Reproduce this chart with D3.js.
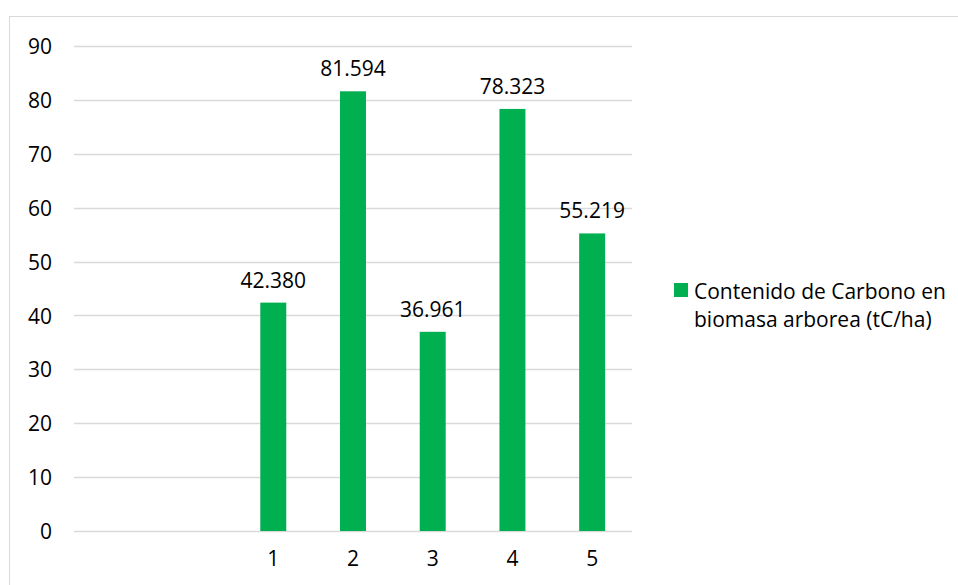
<!DOCTYPE html>
<html>
<head>
<meta charset="utf-8">
<script src="https://cdn.jsdelivr.net/npm/d3@7"></script>
<style>
  html, body { margin: 0; padding: 0; background: #fff; }
  svg { display: block; font-family: "Open Sans", sans-serif; }
  .axis path, .axis line { stroke: none; }
  .axis text { fill: #000; font-size: 21px; font-family: "Open Sans", sans-serif; }
</style>
</head>
<body>
<div id="chart"></div>
<script>
// chart data
var categories = ["", " ", "1", "2", "3", "4", "5"];
var carbono = [null, null, 42.380, 81.594, 36.961, 78.323, 55.219];
var yTicks = [0, 10, 20, 30, 40, 50, 60, 70, 80, 90];
var seriesName = ["Contenido de Carbono en", "biomasa arborea (tC/ha)"];

var width = 958, height = 585;
var margin = {top: 46, left: 74, right: 326, bottom: 54};
var plotW = width - margin.left - margin.right,
    plotH = height - margin.top - margin.bottom;

var svg = d3.select("#chart").append("svg")
    .attr("width", width)
    .attr("height", height);

// chart area frame
svg.append("rect")
    .attr("x", 9.5).attr("y", 16.5)
    .attr("width", 1000).attr("height", 700)
    .attr("fill", "none")
    .attr("stroke", "#d9d9d9");

var g = svg.append("g")
    .attr("transform", "translate(" + margin.left + "," + margin.top + ")");

var x = d3.scaleBand()
    .domain(categories)
    .range([0, plotW])
    .paddingInner(0.674)
    .paddingOuter(0.337);

var y = d3.scaleLinear()
    .domain([0, 90])
    .range([plotH, 0]);

// gridlines
g.append("g")
    .selectAll("line")
    .data(yTicks)
    .join("line")
    .attr("x1", 0).attr("x2", plotW)
    .attr("y1", function(d) { return Math.round(y(d)) + 0.5; })
    .attr("y2", function(d) { return Math.round(y(d)) + 0.5; })
    .attr("stroke", "#d9d9d9")
    .attr("stroke-width", 1.5);

g.append("g")
    .attr("class", "axis")
    .attr("transform", "translate(-22,0)")
    .call(d3.axisLeft(y).tickValues(yTicks).tickSize(0).tickPadding(0))
    .selectAll("text")
    .attr("dy", "0.36em");

g.append("g")
    .attr("class", "axis")
    .attr("transform", "translate(0," + plotH + ")")
    .call(d3.axisBottom(x).tickSize(0).tickPadding(20));

var rows = categories.map(function(c, i) { return {cat: c, val: carbono[i]}; })
    .filter(function(d) { return d.val != null; });

g.selectAll(".bar")
    .data(rows)
    .join("rect")
    .attr("class", "bar")
    .attr("x", function(d) { return x(d.cat); })
    .attr("width", x.bandwidth())
    .attr("y", function(d) { return y(d.val); })
    .attr("height", function(d) { return plotH - y(d.val); })
    .attr("fill", "#00b050");

g.selectAll(".lbl")
    .data(rows)
    .join("text")
    .attr("class", "lbl")
    .attr("x", function(d) { return x(d.cat) + x.bandwidth() / 2; })
    .attr("y", function(d) { return y(d.val) - 15; })
    .attr("text-anchor", "middle")
    .attr("font-size", 21)
    .attr("fill", "#000")
    .text(function(d) { return d3.format(".3f")(d.val); });

// legend
var lg = svg.append("g").attr("transform", "translate(674,283)");
lg.append("rect")
    .attr("width", 14).attr("height", 14)
    .attr("fill", "#00b050");
lg.append("text")
    .attr("x", 20).attr("y", 16)
    .attr("font-size", 21)
    .attr("fill", "#000")
    .selectAll("tspan")
    .data(seriesName)
    .join("tspan")
    .attr("x", 20)
    .attr("dy", function(d, i) { return i ? 28 : 0; })
    .text(function(d) { return d; });
</script>
</body>
</html>
